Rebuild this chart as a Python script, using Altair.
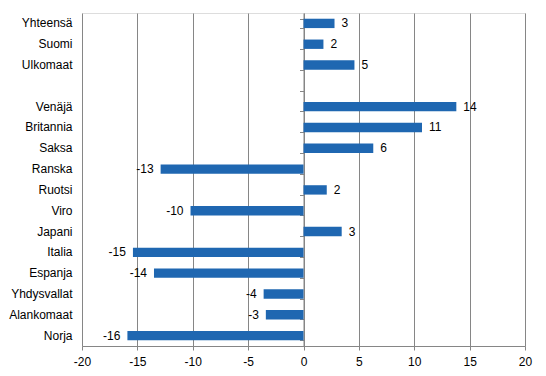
import altair as alt
import pandas as pd

categories = ["Yhteensä", "Suomi", "Ulkomaat", " ", "Venäjä", "Britannia", "Saksa",
              "Ranska", "Ruotsi", "Viro", "Japani", "Italia", "Espanja",
              "Yhdysvallat", "Alankomaat", "Norja"]
bar_cats = ["Yhteensä", "Suomi", "Ulkomaat", "Venäjä", "Britannia", "Saksa",
            "Ranska", "Ruotsi", "Viro", "Japani", "Italia", "Espanja",
            "Yhdysvallat", "Alankomaat", "Norja"]
values = [2.8, 1.8, 4.6, 13.8, 10.7, 6.3, -12.9, 2.1, -10.2, 3.45, -15.4, -13.5,
          -3.6, -3.4, -15.9]
x_ticks = [-20, -15, -10, -5, 0, 5, 10, 15, 20]

df = pd.DataFrame({"cat": bar_cats, "val": values})

FONT = "Liberation Sans"
GRAY = "#868686"
BLUE = "#1f67b1"

yscale = alt.Scale(domain=categories, paddingInner=0.55, paddingOuter=0.275)
xscale = alt.Scale(domain=[-20, 20], nice=False, zero=False)

x_axis = alt.Axis(values=x_ticks, grid=True, gridColor=GRAY, gridWidth=1,
                  domainColor=GRAY, tickColor=GRAY, tickSize=4,
                  labelFont=FONT, labelFontSize=12, labelColor="#000000",
                  labelPadding=6, labelFlush=False, title=None, format="d",
                  labelExpr="replace(datum.label, '\u2212', '-')")

base = alt.Chart(df)

bars = base.mark_bar(color=BLUE).encode(
    x=alt.X("val:Q", scale=xscale, axis=x_axis),
    y=alt.Y("cat:N", scale=yscale, sort=categories,
            axis=alt.Axis(domain=False, ticks=False, grid=False, labelFont=FONT,
                          labelFontSize=12, labelColor="#000000",
                          labelPadding=10, title=None, orient="left")),
)

zero_axis = base.mark_rule(opacity=0).encode(
    x=alt.X("val:Q", scale=xscale),
    y=alt.Y("cat:N", scale=yscale, sort=categories,
            axis=alt.Axis(domain=True, domainColor=GRAY, ticks=True, tickColor=GRAY,
                          tickSize=4, tickBand="extent", labels=False, grid=False,
                          title=None, orient="left", offset=-221.5)),
)

labels = base.transform_calculate(
    lab="replace(format(datum.val, '.0f'), '\u2212', '-')"
)

pos = labels.transform_filter("datum.val >= 0").mark_text(
    align="left", baseline="middle", dx=7, font=FONT, fontSize=12, color="#000000"
).encode(
    x=alt.X("val:Q", scale=xscale),
    y=alt.Y("cat:N", scale=yscale, sort=categories, axis=None),
    text="lab:N",
)

neg = labels.transform_filter("datum.val < 0").mark_text(
    align="right", baseline="middle", dx=-7, font=FONT, fontSize=12, color="#000000"
).encode(
    x=alt.X("val:Q", scale=xscale),
    y=alt.Y("cat:N", scale=yscale, sort=categories, axis=None),
    text="lab:N",
)

chart = alt.layer(bars, zero_axis, pos, neg).resolve_axis(y="independent").properties(
    width=443, height=333,
    autosize=alt.AutoSizeParams(type="none"),
    padding={"left": 82, "top": 13, "right": 21, "bottom": 30},
).configure_view(stroke=None).configure(background="white")

chart.save("out.html", embed_options={"renderer": "svg", "actions": False})
